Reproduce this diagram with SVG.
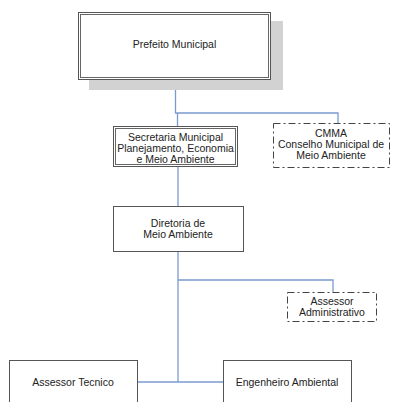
<svg xmlns="http://www.w3.org/2000/svg" width="395" height="402" viewBox="0 0 395 402">
<style>
.t{font-family:"Liberation Sans",Arial,sans-serif;font-size:10.5px;fill:#222;text-anchor:middle}
.box{fill:#fff;stroke:#555;stroke-width:1}
.dbl{fill:none;stroke:#666;stroke-width:1}
.dash{fill:#fff;stroke:#444;stroke-width:1;stroke-dasharray:7 3 2 3}
.c{fill:none;stroke:#7a9bd0;stroke-width:1.3}
</style>
<rect width="395" height="402" fill="#fff"/>
<g id="connectors">
<path class="c" d="M175.5 80 V113 H338 V123"/>
<path class="c" d="M177.5 113 V127"/>
<path class="c" d="M178 167 V207"/>
<path class="c" d="M178 252 V382"/>
<path class="c" d="M178 280 H333 V292"/>
<path class="c" d="M138 382 H223"/>
</g>
<g id="prefeito">
<rect x="89" y="21" width="194" height="69" fill="#d2d2d2"/>
<rect class="box" x="78.5" y="12.5" width="192" height="67"/>
<rect class="dbl" x="80.5" y="14.5" width="188" height="63"/>
<text class="t" x="174.5" y="47.5">Prefeito Municipal</text>
</g>
<g id="secretaria">
<rect class="box" x="113.5" y="126.5" width="124" height="40"/>
<rect class="dbl" x="115.5" y="128.5" width="120" height="36"/>
<text class="t" x="175.5" y="140.5">Secretaria Municipal</text>
<text class="t" x="175.5" y="151.5">Planejamento, Economia</text>
<text class="t" x="175.5" y="162.5">e Meio Ambiente</text>
</g>
<g id="cmma">
<rect class="dash" x="273.5" y="123.5" width="116" height="44"/>
<text class="t" x="331" y="137">CMMA</text>
<text class="t" x="331" y="148">Conselho Municipal de</text>
<text class="t" x="331" y="158.5">Meio Ambiente</text>
</g>
<g id="diretoria">
<rect class="box" x="113.5" y="206.5" width="130" height="45"/>
<text class="t" x="178" y="226.5">Diretoria de</text>
<text class="t" x="178" y="237.5">Meio Ambiente</text>
</g>
<g id="assessor-adm">
<rect class="dash" x="287.5" y="292.5" width="89" height="29"/>
<text class="t" x="332" y="304.5">Assessor</text>
<text class="t" x="332" y="315.5">Administrativo</text>
</g>
<g id="assessor-tec">
<rect class="box" x="9.5" y="360.5" width="128" height="50"/>
<text class="t" x="73" y="385.5">Assessor Tecnico</text>
</g>
<g id="engenheiro">
<rect class="box" x="223.5" y="360.5" width="128" height="50"/>
<text class="t" x="287" y="385.5">Engenheiro Ambiental</text>
</g>
</svg>
